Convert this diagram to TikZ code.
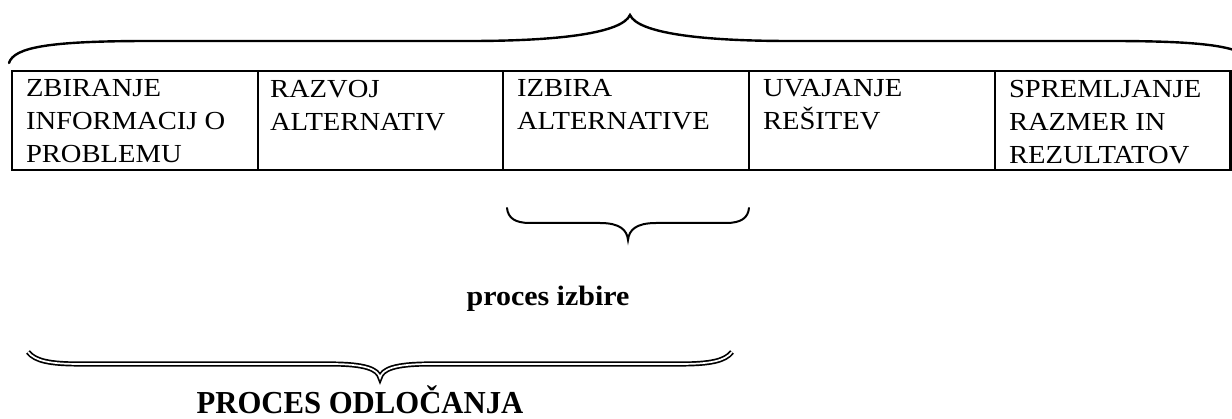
\documentclass[tikz,border=0pt]{standalone}
\usepackage{fontspec}
\setmainfont{Liberation Serif}
\newfontfamily\cellfont[FakeStretch=1.1]{Liberation Serif}
\newfontfamily\smallheadfont[FakeStretch=1.07]{Liberation Serif}
\newfontfamily\bigheadfont[FakeStretch=0.96]{Liberation Serif}
\usetikzlibrary{calc}

\tikzset{
  stage/.style={draw, line width=2.5pt, rectangle, inner sep=0pt, outer sep=0pt,
    anchor=north west, minimum height=99pt},
  stagetext/.style={anchor=north west, inner sep=0pt, outer sep=0pt, align=left,
    font=\cellfont\fontsize{26}{33}\selectfont},
  bracethin/.style={line width=2pt, line cap=round},
  bracewide/.style={line width=2.4pt, line cap=round},
  bracedouble/.style={double, line width=1.7pt, double distance=1.7pt},
  phaselabel/.style={anchor=base, inner sep=0pt},
}

\begin{document}
\begin{tikzpicture}[x=1pt, y=-1pt]
  \useasboundingbox (0,0) rectangle (1232,419);

  % the five stages of the decision process
  \node[stage, minimum width=246pt]   (c1) at (12,71)  {};
  \node[stage, minimum width=245pt]   (c2) at (258,71) {};
  \node[stage, minimum width=246pt]   (c3) at (503,71) {};
  \node[stage, minimum width=246pt]   (c4) at (749,71) {};
  \node[stage, minimum width=235.5pt] (c5) at (995,71) {};

  \node[stagetext] (t1) at ($(c1.north west)+(14,8.8)$) {ZBIRANJE\\INFORMACIJ O\\PROBLEMU};
  \node[stagetext] (t2) at ($(c2.north west)+(12,8.8)$) {RAZVOJ\\ALTERNATIV};
  \node[stagetext] (t3) at ($(c3.north west)+(14,8.8)$) {IZBIRA\\ALTERNATIVE};
  \node[stagetext] (t4) at ($(c4.north west)+(14,8.8)$) {UVAJANJE\\REŠITEV};
  \node[stagetext] (t5) at ($(c5.north west)+(14,8.8)$) {SPREMLJANJE\\RAZMER IN\\REZULTATOV};

  % brace over all stages
  \draw[bracewide] (9,63) .. controls (14,47) and (50,41) .. (150,41) -- (470,41)
    .. controls (560,41) and (622,33) .. (630,15)
    .. controls (638,33) and (700,41) .. (790,41) -- (1110,41)
    .. controls (1210,41) and (1246,47) .. (1251,63);

  % brace under the choice stage
  \draw[bracethin] (507,208) .. controls (508,218) and (515,223) .. (530,223) -- (600,223)
    .. controls (620,223) and (627,230) .. (628,240)
    .. controls (629,230) and (636,223) .. (656,223) -- (726,223)
    .. controls (741,223) and (748,218) .. (749,208);

  \node[phaselabel, font=\smallheadfont\bfseries\fontsize{28}{32}\selectfont] (izb) at (548,306) {proces izbire};

  % double brace under the first three stages
  \draw[bracedouble] (28,352) .. controls (35,361) and (50,364) .. (80,364) -- (330,364)
    .. controls (365,364) and (378,369) .. (380,378)
    .. controls (382,369) and (395,364) .. (430,364) -- (680,364)
    .. controls (710,364) and (725,361) .. (732,352);

  \node[phaselabel, font=\bigheadfont\bfseries\fontsize{32}{36}\selectfont] (odl) at (360,414) {PROCES ODLOČANJA};
\end{tikzpicture}
\end{document}
